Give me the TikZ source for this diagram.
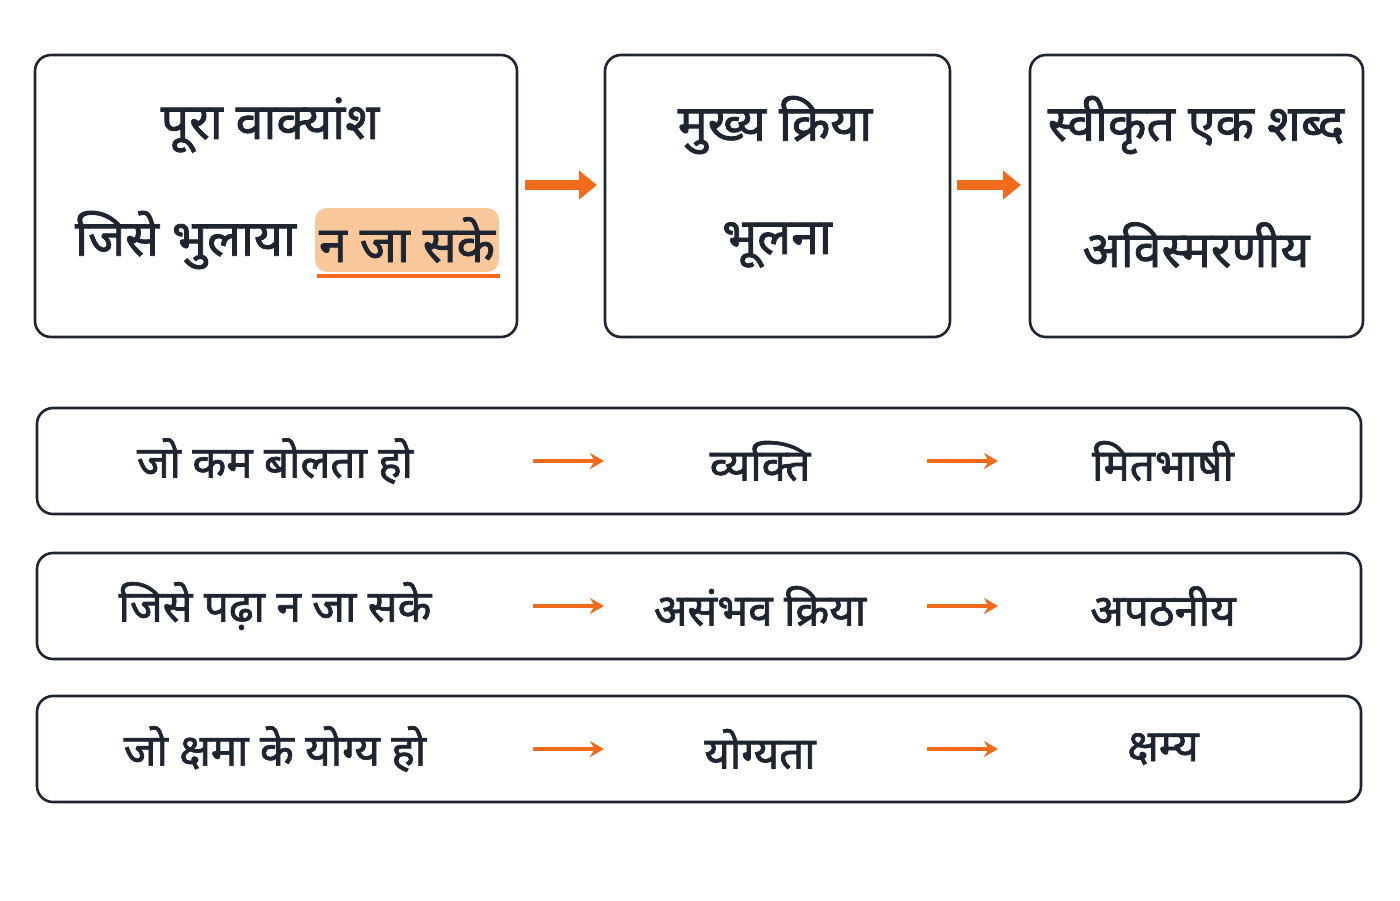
\documentclass[tikz,border=0pt]{standalone}
\usepackage{fontspec}
\newfontfamily\dev[Script=Devanagari,FakeBold=1.6]{Noto Sans}
\usetikzlibrary{arrows.meta}
\definecolor{orng}{HTML}{F26A1B}
\definecolor{hl}{HTML}{F9C89A}
\definecolor{edge}{HTML}{1E2430}
\begin{document}
\begin{tikzpicture}[x=0.5pt,y=-0.5pt,
  box/.style={draw=edge,line width=1.3pt,rounded corners=8pt},
  big/.style={font=\dev\fontsize{25}{29}\selectfont,text=edge},
  row/.style={font=\dev\fontsize{22}{26}\selectfont,text=edge},
  fat/.style={orng,line width=5pt,-{Triangle[length=9pt,width=14pt]}},
  thin/.style={orng,line width=2pt,-{Stealth[length=7pt,width=8pt]}}]
\useasboundingbox (0,0) rectangle (1400,900);
\draw[box] (35,55) rectangle (517,337);
\draw[box] (605,55) rectangle (950,337);
\draw[box] (1030,55) rectangle (1363,337);
\node[big] (t1) at (270,125) {पूरा वाक्यांश};
\node[big,anchor=east] (s1) at (303,240) {जिसे भुलाया};
\node[big,fill=hl,rounded corners=6pt,minimum width=92pt,minimum height=32pt,inner sep=2pt] (s1h) at (407,240) {न जा सके};
\draw[orng,line width=2pt] (317,276) -- (500,276);
\node[big] (t2) at (775,125) {मुख्य क्रिया};
\node[big] (s2) at (777,245) {भूलना};
\node[big] (t3) at (1196,125) {स्वीकृत एक शब्द};
\node[big] (s3) at (1196,245) {अविस्मरणीय};
\coordinate (a1s) at (525,185); \coordinate (a1e) at (597,185);
\coordinate (a2s) at (957,185); \coordinate (a2e) at (1021,185);
\draw[fat] (a1s) -- (a1e);
\draw[fat] (a2s) -- (a2e);
\foreach \y/\a/\b/\c [count=\i] in {461/जो कम बोलता हो/व्यक्ति/मितभाषी, 606/जिसे पढ़ा न जा सके/असंभव क्रिया/अपठनीय, 749/जो क्षमा के योग्य हो/योग्यता/क्षम्य}{
  \draw[box] (37,\y-53) rectangle (1361,\y+53);
  \node[row] (r\i a) at (275,\y) {\a};
  \node[row] (r\i b) at (760,\y) {\b};
  \node[row] (r\i c) at (1163,\y) {\c};
  \coordinate (p\i) at (533,\y); \coordinate (q\i) at (604,\y);
  \coordinate (u\i) at (927,\y); \coordinate (v\i) at (998,\y);
  \draw[thin] (p\i) -- (q\i);
  \draw[thin] (u\i) -- (v\i);
}
\end{tikzpicture}
\end{document}
